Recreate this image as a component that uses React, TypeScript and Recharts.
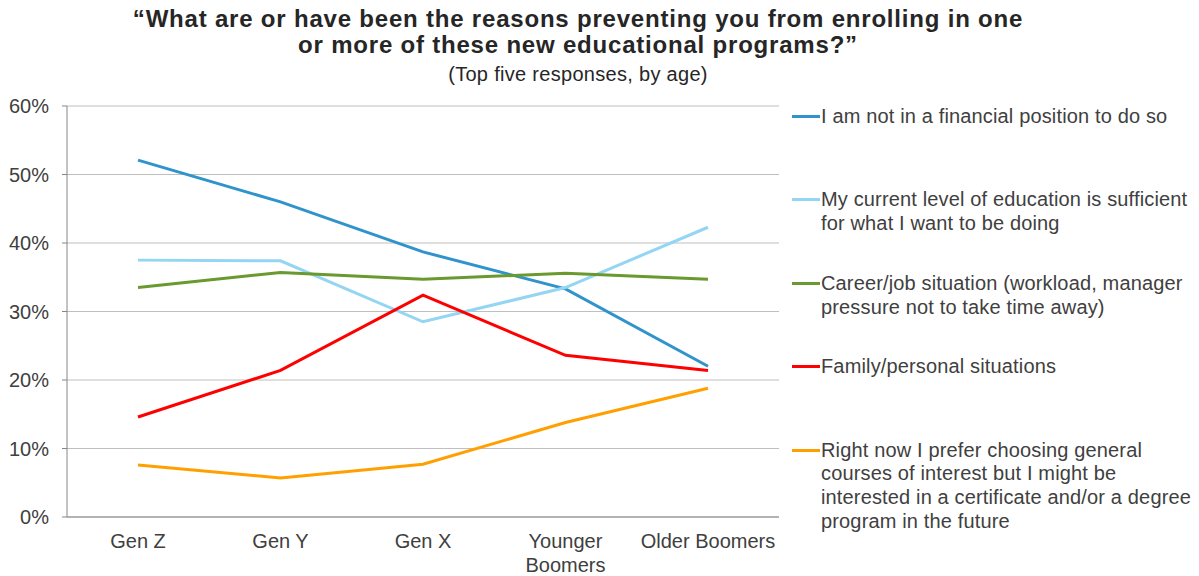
import React from "react";
import { CartesianGrid, Line, LineChart, XAxis, YAxis } from "recharts";

const ages = ["Gen Z", "Gen Y", "Gen X", "Younger Boomers", "Older Boomers"];
const ageLabelLines = [["Gen Z"], ["Gen Y"], ["Gen X"], ["Younger", "Boomers"], ["Older Boomers"]];

const financial = [52.1, 46.0, 38.7, 33.3, 22.0];
const educationEnough = [37.5, 37.4, 28.5, 33.5, 42.3];
const careerJob = [33.5, 35.7, 34.7, 35.6, 34.7];
const family = [14.6, 21.4, 32.4, 23.6, 21.4];
const generalCourses = [7.6, 5.7, 7.7, 13.8, 18.8];

const yTicks = [0, 10, 20, 30, 40, 50, 60];
const edgeTicks = [0, 1, 2, 3, 4, 5];

const seriesNames = [
  "I am not in a financial position to do so",
  "My current level of education is sufficient\nfor what I want to be doing",
  "Career/job situation (workload, manager\npressure not to take time away)",
  "Family/personal situations",
  "Right now I prefer choosing general\ncourses of interest but I might be\ninterested in a certificate and/or a degree\nprogram in the future",
];
const seriesColors = ["#3193cb", "#93d5f3", "#69992f", "#fe0000", "#ffa000"];
const seriesValues = [financial, educationEnough, careerJob, family, generalCourses];

const data = ages.map((age, i) => ({
  age,
  s0: financial[i],
  s1: educationEnough[i],
  s2: careerJob[i],
  s3: family[i],
  s4: generalCourses[i],
}));

const font = '"Liberation Sans", Arial, sans-serif';
const textColor = "#404040";

const AgeTick = (props: any) => {
  const { x, y, payload } = props;
  const idx = ages.indexOf(payload.value);
  const lines = ageLabelLines[idx] || [payload.value];
  return (
    <text x={x} y={y} textAnchor="middle" fill={textColor} fontSize={20} fontFamily={font}>
      {lines.map((l, i) => (
        <tspan key={i} x={x} dy={i === 0 ? 23 : 24}>
          {l}
        </tspan>
      ))}
    </text>
  );
};

const NoLabel = () => <g />;

const App = () => {
  return (
    <div
      style={{
        position: "fixed",
        left: 0,
        top: 0,
        width: 1199,
        height: 576,
        overflow: "hidden",
        background: "#fff",
        fontFamily: font,
      }}
    >
      <div
        style={{
          position: "absolute",
          left: 0,
          width: 1156,
          top: 6,
          textAlign: "center",
          fontWeight: "bold",
          fontSize: 24,
          letterSpacing: 0.8,
          lineHeight: "26px",
          color: "#262626",
        }}
      >
        “What are or have been the reasons preventing you from enrolling in one
        <br />
        or more of these new educational programs?”
      </div>
      <div
        style={{
          position: "absolute",
          left: 0,
          width: 1156,
          top: 62,
          textAlign: "center",
          fontSize: 20,
          letterSpacing: 0.3,
          lineHeight: "24px",
          color: "#262626",
        }}
      >
        (Top five responses, by age)
      </div>
      <div style={{ position: "absolute", left: 0, top: 0 }}>
        <LineChart width={800} height={576} data={data} margin={{ top: 106, right: 21, bottom: 0, left: 0 }}>
          <CartesianGrid vertical={false} stroke="#bfbfbf" />
          <XAxis
            xAxisId="edge"
            type="number"
            domain={[0, 5]}
            ticks={edgeTicks}
            allowDataOverflow
            tick={<NoLabel />}
            height={0}
            axisLine={false}
            tickLine={{ stroke: "#868686" }}
            tickSize={6}
          />
          <XAxis
            dataKey="age"
            height={59}
            padding={{ left: 71, right: 71 }}
            axisLine={{ stroke: "#868686" }}
            tickLine={false}
            tick={<AgeTick />}
            interval={0}
          />
          <YAxis
            width={67}
            domain={[0, 60]}
            ticks={yTicks}
            tickFormatter={(v: number) => `${v}%`}
            axisLine={{ stroke: "#868686" }}
            tickLine={{ stroke: "#868686" }}
            tickSize={5}
            tickMargin={13}
            tick={{ fill: textColor, fontSize: 20, fontFamily: font }}
          />
          {seriesValues.map((_, i) => (
            <Line
              key={i}
              type="linear"
              dataKey={`s${i}`}
              stroke={seriesColors[i]}
              strokeWidth={3}
              dot={false}
              activeDot={false}
              isAnimationActive={false}
            />
          ))}
        </LineChart>
      </div>
      {seriesNames.map((name, i) => (
        <div key={i} style={{ position: "absolute", left: 792, top: 105 + i * 83.4 }}>
          <div
            style={{
              position: "absolute",
              left: 0,
              top: 10,
              width: 28,
              height: 3,
              background: seriesColors[i],
            }}
          />
          <div
            style={{
              position: "absolute",
              left: 29,
              top: 0,
              width: 370,
              fontSize: 20,
              letterSpacing: 0.15,
              lineHeight: "23.7px",
              color: textColor,
              whiteSpace: "pre",
            }}
          >
            {name}
          </div>
        </div>
      ))}
    </div>
  );
};

export default App;
